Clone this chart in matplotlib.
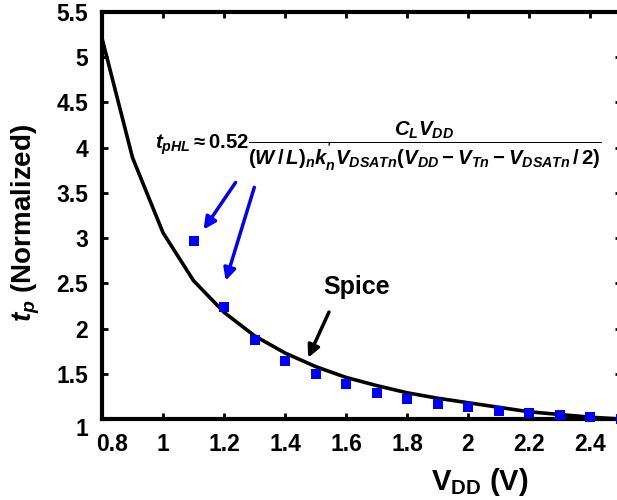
import matplotlib
matplotlib.use("Agg")
import matplotlib.pyplot as plt
import matplotlib.transforms as mtransforms

plt.rcParams['font.family'] = ['Liberation Sans', 'DejaVu Sans']
plt.rcParams['font.weight'] = 'bold'
plt.rcParams['mathtext.fontset'] = 'custom'
plt.rcParams['mathtext.rm'] = 'Liberation Sans:bold'
plt.rcParams['mathtext.bf'] = 'Liberation Sans:bold'
plt.rcParams['mathtext.it'] = 'Liberation Sans:bold:italic'
plt.rcParams['mathtext.sf'] = 'Liberation Sans:bold'

# Spice simulation (black line)
vdd_spice = [0.8, 0.9, 1.0, 1.1, 1.2, 1.3, 1.4, 1.5, 1.6, 1.7, 1.8, 1.9, 2.0, 2.1, 2.2, 2.3, 2.4, 2.5]
tp_spice = [5.21, 3.89, 3.06, 2.53, 2.18, 1.92, 1.73, 1.58, 1.46, 1.37, 1.29, 1.23, 1.18, 1.13, 1.08, 1.05, 1.02, 1.00]

# Analytical model (blue squares)
vdd_model = [1.1, 1.2, 1.3, 1.4, 1.5, 1.6, 1.7, 1.8, 1.9, 2.0, 2.1, 2.2, 2.3, 2.4, 2.5]
tp_model = [2.97, 2.24, 1.87, 1.64, 1.50, 1.39, 1.29, 1.22, 1.17, 1.13, 1.09, 1.07, 1.04, 1.02, 1.00]

xticks = [0.8, 1.0, 1.2, 1.4, 1.6, 1.8, 2.0, 2.2, 2.4]
xticklabels = ['0.8', '1', '1.2', '1.4', '1.6', '1.8', '2', '2.2', '2.4']
yticks = [1, 1.5, 2, 2.5, 3, 3.5, 4, 4.5, 5, 5.5]
yticklabels = ['1', '1.5', '2', '2.5', '3', '3.5', '4', '4.5', '5', '5.5']

fig = plt.figure(figsize=(6.17, 5.0), dpi=100)
ax = fig.add_axes([102/617, 1-419/500, 518.5/617, 407/500])

ax.plot(vdd_spice, tp_spice, color='black', lw=2.6, zorder=3)
ax.plot(vdd_model, tp_model, linestyle='none', marker='s', markersize=6.5,
        color='#0000FF', markeredgewidth=0, zorder=4, clip_on=False)

ax.set_xlim(0.8, 2.5)
ax.set_ylim(1, 5.5)
ax.set_xticks(xticks)
ax.set_xticklabels(xticklabels)
ax.set_yticks(yticks)
ax.set_yticklabels(yticklabels)
ax.tick_params(direction='in', length=4, width=2, labelsize=16.5, top=True, right=True, pad=10)
for s in ax.spines.values():
    s.set_linewidth(3)

# nudge corner labels like the reference
lab = ax.get_xticklabels()[0]
lab.set_transform(lab.get_transform() + mtransforms.ScaledTranslation(10/100, 0, fig.dpi_scale_trans))
lab = ax.get_yticklabels()[0]
lab.set_transform(lab.get_transform() + mtransforms.ScaledTranslation(0, -8/100, fig.dpi_scale_trans))

fig.text(480/617, 1-482/500, r'V$_{\mathregular{DD}}$ (V)', fontsize=21, fontweight='bold',
         ha='center', va='center')
fig.text(26/617, 1-223/500, r'$t_p$ (Normalized)', fontsize=20, fontweight='bold',
         ha='center', va='center', rotation=90)

ax.text(0.974, 4.01,
        r"$t_{pHL}\approx 0.52\dfrac{C_L V_{DD}}{(W\,/\,L)_n k_n^{'} V_{DSATn}(V_{DD}-V_{Tn}-V_{DSATn}\,/\,2)}$",
        fontsize=14.7, ha='left', va='center')

ax.text(1.636, 2.46, 'Spice', fontsize=18, fontweight='bold', ha='center', va='center')

ax.annotate('', xy=(1.128, 3.07), xytext=(1.243, 3.64),
            arrowprops=dict(arrowstyle='-|>', color='#0000FF', lw=2.5, mutation_scale=18))
ax.annotate('', xy=(1.203, 2.50), xytext=(1.302, 3.59),
            arrowprops=dict(arrowstyle='-|>', color='#0000FF', lw=2.5, mutation_scale=18))
ax.annotate('', xy=(1.472, 1.65), xytext=(1.548, 2.21),
            arrowprops=dict(arrowstyle='-|>', color='black', lw=2.5, mutation_scale=18))

fig.savefig('out.png', dpi=100)
